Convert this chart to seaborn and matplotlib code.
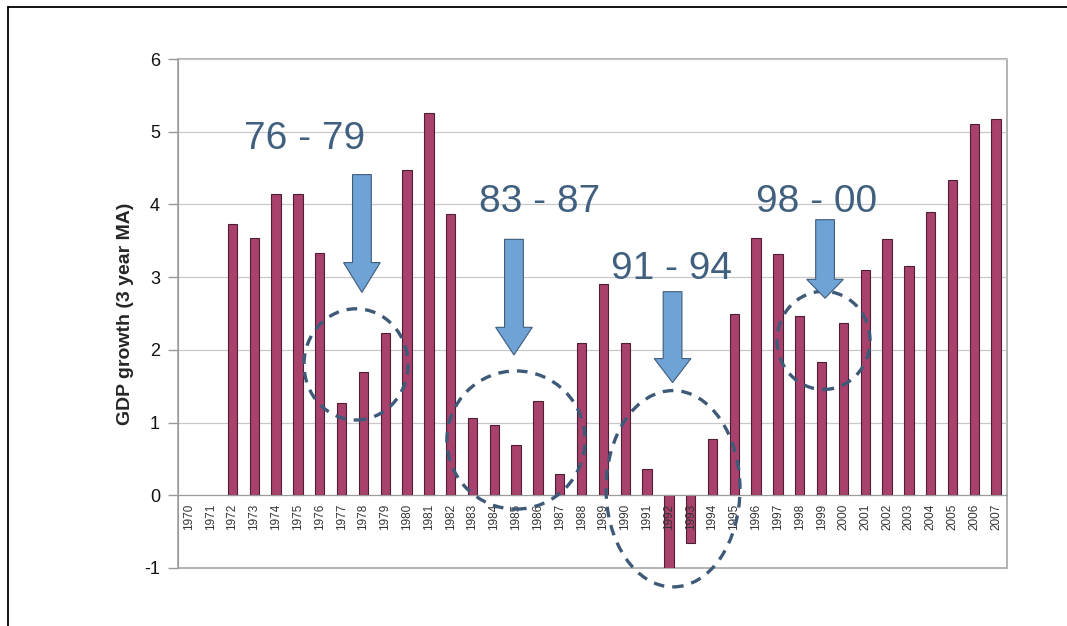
import numpy as np
import pandas as pd
import matplotlib
matplotlib.use("Agg")
import matplotlib.pyplot as plt
from matplotlib.patches import Ellipse, Polygon
from matplotlib.lines import Line2D
import seaborn as sns

# 3-year moving average of GDP growth, by year
years = [str(y) for y in range(1970, 2008)]
growth = [np.nan, np.nan, 3.73, 3.54, 4.14, 4.14, 3.33, 1.27, 1.70, 2.23,
          4.47, 5.26, 3.87, 1.06, 0.97, 0.69, 1.30, 0.29, 2.10, 2.91,
          2.10, 0.36, -1.00, -0.66, 0.77, 2.50, 3.54, 3.32, 2.46, 1.83,
          2.37, 3.10, 3.53, 3.16, 3.90, 4.33, 5.10, 5.17]

# highlighted slow-growth periods: label, label position, arrow, circled area
period_labels = ["76 - 79", "83 - 87", "91 - 94", "98 - 00"]
label_x = [5.32, 16.09, 22.14, 28.79]
label_y = [4.76, 3.90, 2.97, 3.90]
arrow_x = [7.93, 14.90, 22.17, 29.16]
arrow_top = [4.41, 3.52, 2.80, 3.79]
arrow_neck = [3.20, 2.31, 1.88, 2.97]
arrow_tip = [2.79, 1.93, 1.55, 2.71]
circle_x = [7.66, 14.99, 22.19, 29.09]
circle_y = [1.80, 0.76, 0.09, 2.13]
circle_w = [4.77, 6.33, 6.14, 4.26]
circle_h = [1.53, 1.90, 2.70, 1.35]

df = pd.DataFrame({"year": years, "growth": growth})

sns.set_style("white")
plt.rcParams["font.family"] = ["Liberation Sans", "DejaVu Sans"]
plt.rcParams["axes.unicode_minus"] = False

fig = plt.figure(figsize=(10.67, 6.26), dpi=100)
ax = fig.add_axes([178 / 1067, 1 - 568 / 626, 829 / 1067, 509 / 626])

sns.barplot(data=df, x="year", y="growth", order=years, color="#a8416c",
            saturation=1, width=0.43, edgecolor="#4d1f35", linewidth=0.8,
            ax=ax, zorder=3)

ax.set_xlim(-0.5, len(years) - 0.5)
ax.set_ylim(-1, 6)
ax.set_yticks(range(-1, 7))
ax.yaxis.grid(True, color="#c8c8c8", linewidth=0.9)
ax.set_axisbelow(True)
# year labels sit on top of the negative bars
ax.xaxis.set_zorder(4)
ax.spines["bottom"].set_zorder(4)

# plot-area frame
ax.patch.set_edgecolor("#a6a6a6")
ax.patch.set_linewidth(1.2)
for side in ("top", "right"):
    ax.spines[side].set_visible(False)
ax.spines["left"].set_color("#9a9a9a")
ax.spines["bottom"].set_color("#9a9a9a")
ax.spines["bottom"].set_position(("data", 0))

ax.tick_params(axis="y", labelsize=13, length=7, width=1, color="#9a9a9a",
               pad=6, left=True, labelcolor="#111111")
ax.tick_params(axis="x", labelsize=8.5, length=0, pad=6, labelrotation=90,
               labelcolor="#333333")
ax.set_xlabel("")
ax.set_ylabel("GDP growth (3 year MA)", fontsize=14, fontweight="bold",
              labelpad=7)

text_color = "#41607f"
arrow_fill = "#6fa3d6"
arrow_edge = "#3e5c7c"
shaft_half = 0.43
head_half = 0.84

for i, lab in enumerate(period_labels):
    ax.text(label_x[i], label_y[i], lab, ha="center", va="baseline",
            fontsize=28, color=text_color, zorder=6)
    cx = arrow_x[i]
    verts = [(cx - shaft_half, arrow_top[i]), (cx + shaft_half, arrow_top[i]),
             (cx + shaft_half, arrow_neck[i]), (cx + head_half, arrow_neck[i]),
             (cx, arrow_tip[i]), (cx - head_half, arrow_neck[i]),
             (cx - shaft_half, arrow_neck[i])]
    ax.add_patch(Polygon(verts, closed=True, facecolor=arrow_fill,
                         edgecolor=arrow_edge, linewidth=0.8, zorder=5))
    ax.add_patch(Ellipse((circle_x[i], circle_y[i]), circle_w[i], circle_h[i],
                         fill=False, edgecolor="#3e5a78", linewidth=2.4,
                         linestyle=(0, (3.2, 2.4)), zorder=4.5, clip_on=False))

# outer frame lines along the left and top edges
fig.add_artist(Line2D([8 / 1067, 8 / 1067], [0, 1 - 7 / 626],
                      transform=fig.transFigure, color="black", linewidth=1.3))
fig.add_artist(Line2D([8 / 1067, 1], [1 - 7 / 626, 1 - 7 / 626],
                      transform=fig.transFigure, color="black", linewidth=1.3))

fig.savefig("out.png", dpi=100, facecolor="white")
